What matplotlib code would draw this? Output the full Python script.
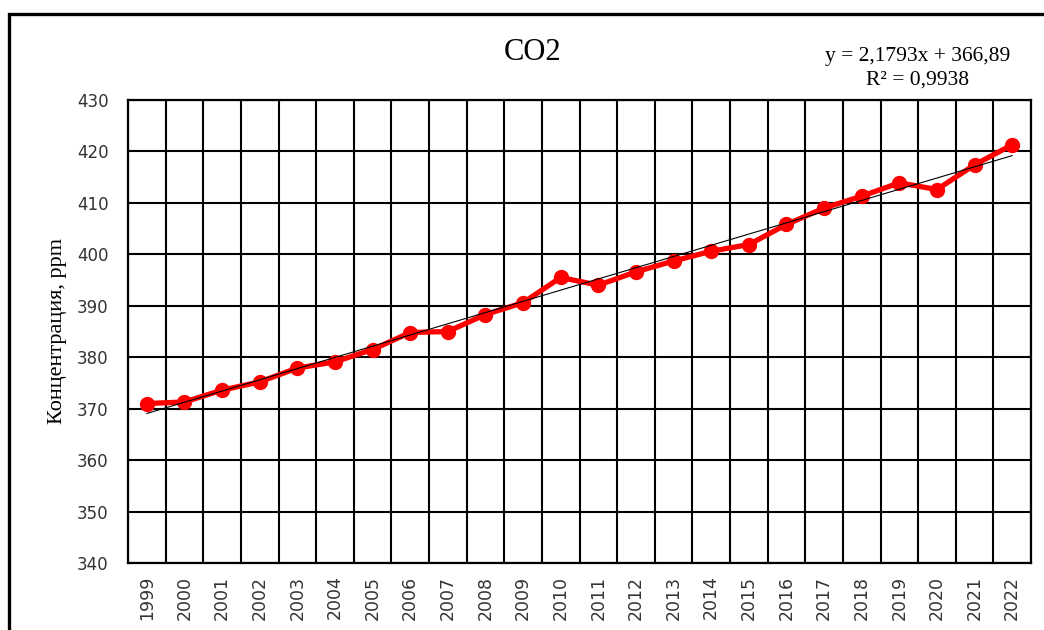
#!/usr/bin/env python3

# CO2 concentration by year, with linear trend

import matplotlib
matplotlib.use("Agg")
import matplotlib.pyplot as plt
from matplotlib.patches import Rectangle
import numpy as np

years = [str(y) for y in range(1999, 2023)]
co2_ppm = [371.0, 371.3, 373.6, 375.2, 377.9, 379.1, 381.5, 384.8, 385.0, 388.3,
           390.6, 395.5, 394.0, 396.6, 398.7, 400.6, 401.9, 405.8, 409.0, 411.3,
           413.9, 412.6, 417.4, 421.3]

# trendline as reported on the chart (x = 1..24)
trend_slope = 2.1793
trend_intercept = 366.89
trend_r2 = 0.9938

y_ticks = list(range(340, 431, 10))

fig = plt.figure(figsize=(10.44, 6.3), dpi=100)
ax = fig.add_axes([128 / 1044, 67 / 630, 903 / 1044, 463 / 630])

x = np.arange(len(years))

# data line
ax.plot(x, co2_ppm, color='#ff0000', linewidth=3.8, marker='o',
        markersize=10, zorder=4)

# linear trend
trend_x = x + 1
ax.plot(x, trend_slope * trend_x + trend_intercept, color='black',
        linewidth=0.8, zorder=5)

# grid: vertical lines between categories, horizontal at major ticks
ax.set_xlim(-0.5, len(years) - 0.5)
ax.set_ylim(y_ticks[0], y_ticks[-1])
ax.set_xticks(x)
ax.set_xticklabels(years, rotation=90, fontsize=12.5, color='#333333',
                   family='DejaVu Sans')
ax.set_xticks(np.arange(len(years) + 1) - 0.5, minor=True)
ax.set_yticks(y_ticks)
ax.set_yticklabels([str(t) for t in y_ticks], fontsize=12, color='#333333',
                   family='DejaVu Sans')
ax.tick_params(axis='both', which='both', length=0)
ax.tick_params(axis='y', pad=14)
ax.tick_params(axis='x', pad=9)
ax.grid(True, which='minor', axis='x', color='black', linewidth=1.5)
ax.grid(True, which='major', axis='y', color='black', linewidth=1.5)
ax.set_axisbelow(True)
for spine in ax.spines.values():
    spine.set_color('black')
    spine.set_linewidth(1.6)

ax.set_ylabel('Концентрация, ppm', fontsize=16, family='Liberation Serif')
ax.yaxis.set_label_coords(-0.067, 0.5)

fig.text(533 / 1044, 1 - 52 / 630, 'CO2', ha='center', va='center',
         fontsize=22, family='Liberation Serif')

eq_text = f"y = {trend_slope:.4f}x + {trend_intercept:.2f}".replace('.', ',')
r2_text = f"R² = {trend_r2:.4f}".replace('.', ',')
fig.text(918 / 1044, 1 - 56 / 630, eq_text, ha='center', va='center',
         fontsize=15.5, family='Liberation Serif')
fig.text(918 / 1044, 1 - 80 / 630, r2_text, ha='center', va='center',
         fontsize=15.5, family='Liberation Serif')

# outer chart frame (cut off on the right and bottom)
frame = Rectangle((9 / 1044, -0.2), 1.2, 0.2 + 1 - 14 / 630,
                  transform=fig.transFigure, fill=False,
                  edgecolor='black', linewidth=2.4, clip_on=False)
fig.add_artist(frame)

fig.savefig('out.png', dpi=100)
